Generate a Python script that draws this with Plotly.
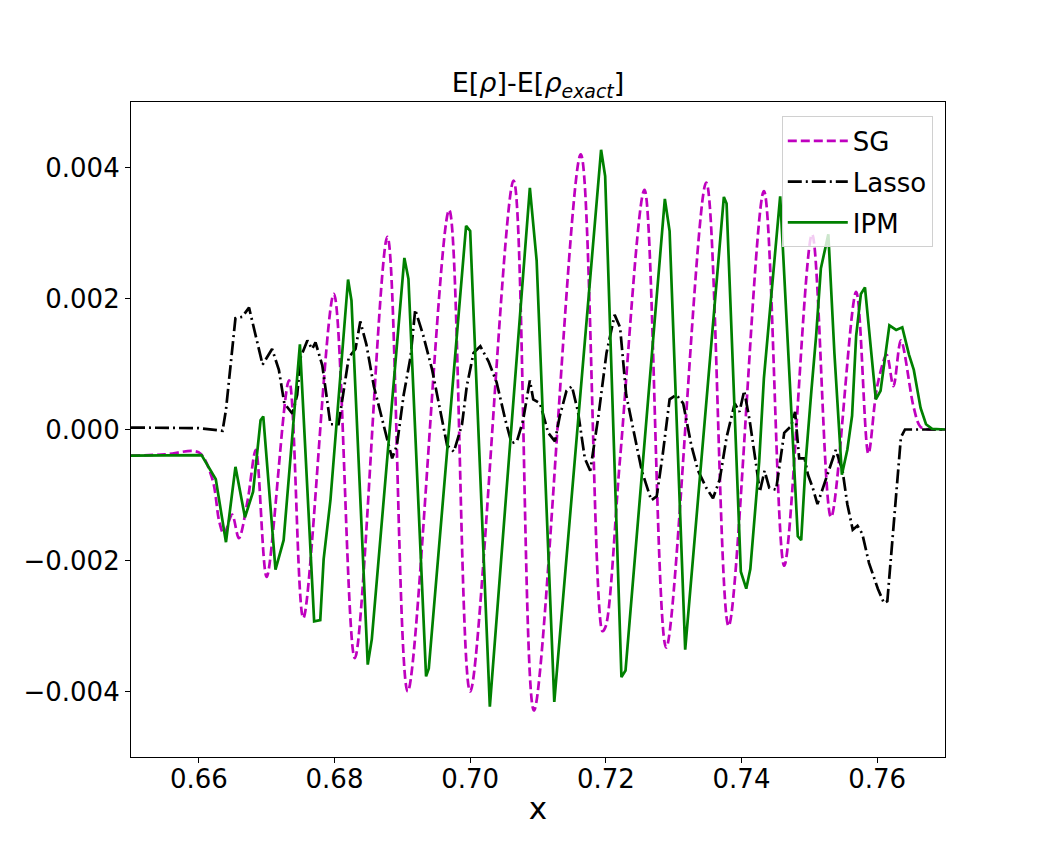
import plotly.graph_objects as go

# values
sg_x = [0.650, 0.655, 0.6600, 0.6620, 0.6630, 0.6637, 0.6649, 0.6659, 0.6672, 0.6684,
        0.6700, 0.6733, 0.6754, 0.6799, 0.6830, 0.6878, 0.6908, 0.6969, 0.7000, 0.7064,
        0.7094, 0.7163, 0.7195, 0.7200, 0.7221, 0.7257, 0.7289, 0.7348, 0.7381, 0.7433,
        0.7463, 0.7504, 0.7532, 0.7569, 0.7587, 0.7600, 0.7614, 0.7624, 0.7635, 0.7654,
        0.7664, 0.7680, 0.7700]
sg_y = [-0.00040, -0.00038, -0.00035, -0.00076, -0.00140, -0.00160, -0.00130, -0.00166, -0.00108, -0.00031,
        -0.00225, 0.00075, -0.00288, 0.00207, -0.00349, 0.00294, -0.00400, 0.00335, -0.00400, 0.00380,
        -0.00429, 0.00420, -0.00308, -0.00300, -0.00044, 0.00366, -0.00333, 0.00377, -0.00300, 0.00364,
        -0.00208, 0.00298, -0.00134, 0.00210, -0.00037, 0.00066, 0.00114, 0.00066, 0.00136, 0.00033,
        0.00004, 0.00000, 0.00000]

lasso_x = [0.650, 0.6600, 0.6635, 0.6640, 0.6654, 0.6664, 0.6674, 0.6694, 0.6708, 0.6718,
           0.6726, 0.6738, 0.6745, 0.6750, 0.6760, 0.6767, 0.6772, 0.6782, 0.6794, 0.6806,
           0.6821, 0.6831, 0.6838, 0.6847, 0.6858, 0.6868, 0.6877, 0.6885, 0.6892, 0.6902,
           0.6912, 0.6919, 0.6931, 0.6944, 0.6956, 0.6966, 0.6976, 0.6988, 0.6995, 0.7005,
           0.7015, 0.7027, 0.7039, 0.7052, 0.7061, 0.7069, 0.7078, 0.7088, 0.7093, 0.7103,
           0.7115, 0.7125, 0.7132, 0.7142, 0.7150, 0.7159, 0.7169, 0.7177, 0.7189, 0.7201,
           0.7213, 0.7221, 0.7230, 0.7243, 0.7253, 0.7267, 0.7275, 0.7284, 0.7294, 0.7304,
           0.7314, 0.7326, 0.7336, 0.7348, 0.7358, 0.7368, 0.7378, 0.7390, 0.7397, 0.7404,
           0.7412, 0.7422, 0.7427, 0.7434, 0.7441, 0.7451, 0.7463, 0.7473, 0.7479, 0.7485,
           0.7493, 0.7498, 0.7505, 0.7512, 0.7520, 0.7532, 0.7539, 0.7549, 0.7556, 0.7564,
           0.7571, 0.7578, 0.7588, 0.7601, 0.7610, 0.7615, 0.7625, 0.7635, 0.7641, 0.7700]
lasso_y = [0.00003, 0.00002, -0.00002, 0.00030, 0.00170, 0.00172, 0.00186, 0.00099, 0.00123, 0.00091,
           0.00040, 0.00024, 0.00053, 0.00110, 0.00136, 0.00123, 0.00133, 0.00098, 0.00008, 0.00008,
           0.00110, 0.00123, 0.00165, 0.00130, 0.00066, 0.00027, -0.00012, -0.00044, -0.00024, 0.00053,
           0.00110, 0.00183, 0.00143, 0.00091, 0.00027, -0.00024, -0.00034, 0.00008, 0.00066, 0.00117,
           0.00127, 0.00104, 0.00072, 0.00014, -0.00021, -0.00018, 0.00014, 0.00075, 0.00046, 0.00040,
           -0.00005, -0.00018, 0.00020, 0.00059, 0.00066, 0.00027, -0.00044, -0.00063, 0.00020, 0.00117,
           0.00175, 0.00156, 0.00053, -0.00012, -0.00063, -0.00108, -0.00102, -0.00037, 0.00046, 0.00053,
           0.00040, -0.00024, -0.00063, -0.00089, -0.00105, -0.00076, -0.00012, 0.00040, 0.00027, 0.00059,
           0.00014, -0.00057, -0.00095, -0.00063, -0.00089, -0.00092, -0.00005, 0.00005, 0.00027, -0.00044,
           -0.00044, -0.00069, -0.00089, -0.00114, -0.00089, -0.00050, -0.00031, -0.00063, -0.00114, -0.00153,
           -0.00147, -0.00159, -0.00204, -0.00243, -0.00265, -0.00262, -0.00140, -0.00012, 0.00000, 0.00000]

ipm_x = [0.650, 0.6604, 0.6625, 0.6632, 0.6640, 0.6654, 0.6668, 0.6680, 0.6691, 0.6695,
         0.6713, 0.6725, 0.6749, 0.6770, 0.6779, 0.6784, 0.6794, 0.6820, 0.6825, 0.6849,
         0.6855, 0.6903, 0.6909, 0.6935, 0.6939, 0.6994, 0.7000, 0.7029, 0.7088, 0.7098,
         0.7124, 0.7193, 0.7199, 0.7223, 0.7229, 0.7287, 0.7294, 0.7317, 0.7374, 0.7378,
         0.7399, 0.7407, 0.7413, 0.7426, 0.7433, 0.7457, 0.7483, 0.7488, 0.7495, 0.7503,
         0.7510, 0.7517, 0.7522, 0.7528, 0.7537, 0.7547, 0.7548, 0.7556, 0.7563, 0.7569,
         0.7576, 0.7582, 0.7591, 0.7598, 0.7605, 0.7613, 0.7618, 0.7628, 0.7637, 0.7647,
         0.7654, 0.7664, 0.7672, 0.7681, 0.7700]
ipm_y = [-0.00040, -0.00039, -0.00076, -0.00120, -0.00172, -0.00057, -0.00134, -0.00095, 0.00014, 0.00020,
         -0.00214, -0.00169, 0.00130, -0.00293, -0.00291, -0.00198, -0.00108, 0.00229, 0.00197, -0.00359,
         -0.00320, 0.00262, 0.00230, -0.00377, -0.00365, 0.00311, 0.00303, -0.00423, 0.00369, 0.00258,
         -0.00416, 0.00427, 0.00387, -0.00378, -0.00368, 0.00352, 0.00303, -0.00336, 0.00355, 0.00345,
         -0.00217, -0.00243, -0.00213, -0.00050, 0.00078, 0.00356, -0.00163, -0.00169, -0.00044, 0.00059,
         0.00143, 0.00246, 0.00271, 0.00298, 0.00116, -0.00063, -0.00069, -0.00031, 0.00021, 0.00143,
         0.00207, 0.00217, 0.00117, 0.00046, 0.00059, 0.00117, 0.00159, 0.00152, 0.00156, 0.00114,
         0.00091, 0.00033, 0.00008, 0.00001, 0.00000]

x_ticks = [0.66, 0.68, 0.70, 0.72, 0.74, 0.76]
x_labels = ["0.66", "0.68", "0.70", "0.72", "0.74", "0.76"]
y_ticks = [-0.004, -0.002, 0.0, 0.002, 0.004]
y_labels = ["\u22120.004", "\u22120.002", "0.000", "0.002", "0.004"]

fig = go.Figure()
fig.add_trace(go.Scatter(x=sg_x, y=sg_y, mode="lines", name="SG", legendgroup="sg",
                         line=dict(color="#bf00bf", width=2.7, dash="9px,4px", shape="spline", smoothing=0.9)))
fig.add_trace(go.Scatter(x=lasso_x, y=lasso_y, mode="lines", name="Lasso", legendgroup="lasso",
                         line=dict(color="black", width=2.7, dash="14px,4px,2px,4px")))
fig.add_trace(go.Scatter(x=ipm_x, y=ipm_y, mode="lines", name="IPM", legendgroup="ipm",
                         line=dict(color="#008000", width=2.7)))

# page has an 8px body margin, so margins are shifted to land the plot box where the reference has it
fig.update_layout(
    width=1050, height=850,
    margin=dict(l=123, r=113, t=94, b=101),
    paper_bgcolor="white", plot_bgcolor="white",
    font=dict(family="DejaVu Sans", size=26, color="black"),
    title=dict(text="E[<i>\u03c1</i>]-E[<i>\u03c1</i><sub><i>exact</i></sub>]",
               x=0.5, xref="paper", xanchor="center",
               y=1.0, yref="paper", yanchor="bottom", pad=dict(b=10),
               font=dict(size=27)),
    legend=dict(x=0.985, y=0.978, xanchor="right", yanchor="top",
                bgcolor="rgba(255,255,255,0.8)", bordercolor="#d0d0d0", borderwidth=1,
                font=dict(size=26), itemwidth=60, tracegroupgap=4),
    showlegend=True,
)
fig.update_xaxes(range=[0.65, 0.77], tickvals=x_ticks, ticktext=x_labels,
                 showgrid=False, zeroline=False, showline=True, linecolor="black", linewidth=1.2,
                 mirror=True, ticks="outside", ticklen=5, tickcolor="black", ticklabelstandoff=-6,
                 title=dict(text="x", standoff=4))
fig.update_yaxes(range=[-0.005, 0.005], tickvals=y_ticks, ticktext=y_labels,
                 showgrid=False, zeroline=False, showline=True, linecolor="black", linewidth=1.2,
                 mirror=True, ticks="outside", ticklen=5, tickcolor="black")

fig.write_html("out.html")
